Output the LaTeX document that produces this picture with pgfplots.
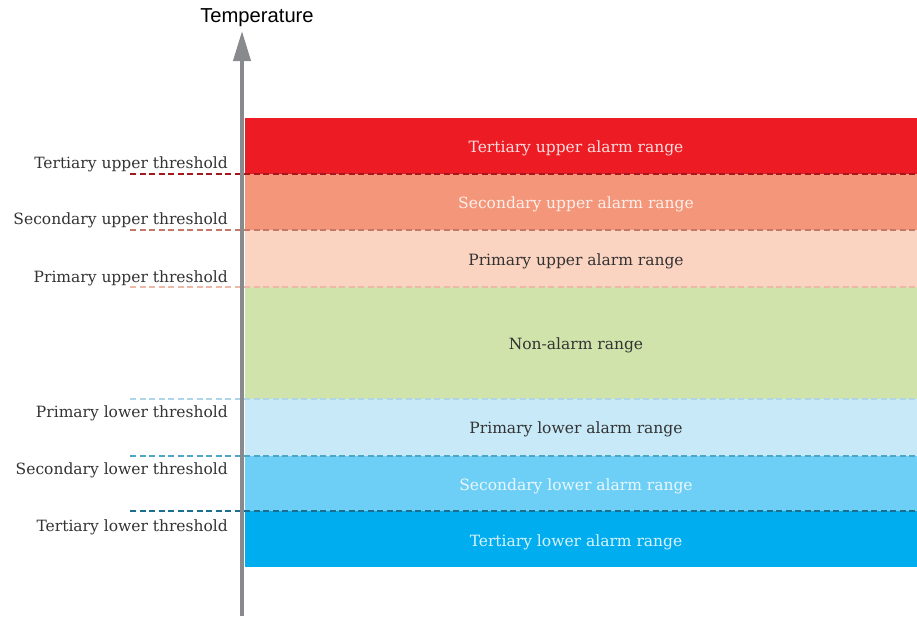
\documentclass[border=0pt]{standalone}
\usepackage{pgfplots}
\pgfplotsset{compat=1.18}
\usepackage{fontspec}
\setmainfont{DejaVu Serif}
\newfontfamily\sansf{Liberation Sans}
\usetikzlibrary{arrows.meta}
\definecolor{tu}{HTML}{ED1C24}
\definecolor{su}{HTML}{F49679}
\definecolor{pu}{HTML}{FBD3C1}
\definecolor{na}{HTML}{D0E3AA}
\definecolor{pl}{HTML}{C7E9F8}
\definecolor{sl}{HTML}{6DCFF6}
\definecolor{tl}{HTML}{00AEEF}
\definecolor{dtu}{HTML}{A3181E}
\definecolor{dsu}{HTML}{C57868}
\definecolor{dpu}{HTML}{EDB9A6}
\definecolor{dpl}{HTML}{AFD6E8}
\definecolor{dsl}{HTML}{4DA6C6}
\definecolor{dtl}{HTML}{1B6E8E}
\definecolor{arr}{HTML}{898A8D}
\definecolor{txt}{HTML}{333333}
\begin{document}
\begin{tikzpicture}
\begin{axis}[scale only axis, width=917pt, height=616pt,
  xmin=0, xmax=917, ymin=0, ymax=616, y dir=reverse,
  axis lines=none, clip=false]
% bands
\addplot[fill=tu, draw=none] coordinates {(245,118) (917,118) (917,174) (245,174)} -- cycle;
\addplot[fill=su, draw=none] coordinates {(245,174) (917,174) (917,230) (245,230)} -- cycle;
\addplot[fill=pu, draw=none] coordinates {(245,230) (917,230) (917,287) (245,287)} -- cycle;
\addplot[fill=na, draw=none] coordinates {(245,287) (917,287) (917,399) (245,399)} -- cycle;
\addplot[fill=pl, draw=none] coordinates {(245,399) (917,399) (917,456) (245,456)} -- cycle;
\addplot[fill=sl, draw=none] coordinates {(245,456) (917,456) (917,511) (245,511)} -- cycle;
\addplot[fill=tl, draw=none] coordinates {(245,511) (917,511) (917,567) (245,567)} -- cycle;
% thresholds
\pgfplotsset{thr/.style={line width=2pt, dash pattern=on 6pt off 3.5pt}}
\addplot[draw=dtu, thr] coordinates {(130,174) (917,174)};
\addplot[draw=dsu, thr] coordinates {(130,230) (917,230)};
\addplot[draw=dpu, thr] coordinates {(130,287) (917,287)};
\addplot[draw=dpl, thr] coordinates {(130,399) (917,399)};
\addplot[draw=dsl, thr] coordinates {(130,456) (917,456)};
\addplot[draw=dtl, thr] coordinates {(130,511) (917,511)};
% arrow
\addplot[draw=arr, line width=4pt, -{Triangle[width=17pt,length=30pt]}] coordinates {(242,616) (242,31)};
% title
\node[font=\sansf\fontsize{20.2}{23}\selectfont, anchor=center] at (axis cs:257,18) {Temperature};
% threshold labels
\begin{scope}[every node/.style={font=\fontsize{15.5}{18}\selectfont, text=txt, anchor=east, inner sep=0pt}]
\node at (axis cs:228,164) {Tertiary upper threshold};
\node at (axis cs:228,220) {Secondary upper threshold};
\node at (axis cs:228,278) {Primary upper threshold};
\node at (axis cs:228,413) {Primary lower threshold};
\node at (axis cs:228,470) {Secondary lower threshold};
\node at (axis cs:228,527) {Tertiary lower threshold};
\end{scope}
% band labels
\begin{scope}[every node/.style={font=\fontsize{15.5}{18}\selectfont, anchor=center}]
\node[text=white, text opacity=0.85] at (axis cs:576,148) {Tertiary upper alarm range};
\node[text=white, text opacity=0.85] at (axis cs:576,204) {Secondary upper alarm range};
\node[text=txt] at (axis cs:576,261) {Primary upper alarm range};
\node[text=txt] at (axis cs:576,345) {Non-alarm range};
\node[text=txt] at (axis cs:576,429) {Primary lower alarm range};
\node[text=white, text opacity=0.85] at (axis cs:576,486) {Secondary lower alarm range};
\node[text=white, text opacity=0.85] at (axis cs:576,542) {Tertiary lower alarm range};
\end{scope}
\end{axis}
\pgfresetboundingbox
\useasboundingbox (current axis.south west) rectangle (current axis.north east);
\end{tikzpicture}
\end{document}
